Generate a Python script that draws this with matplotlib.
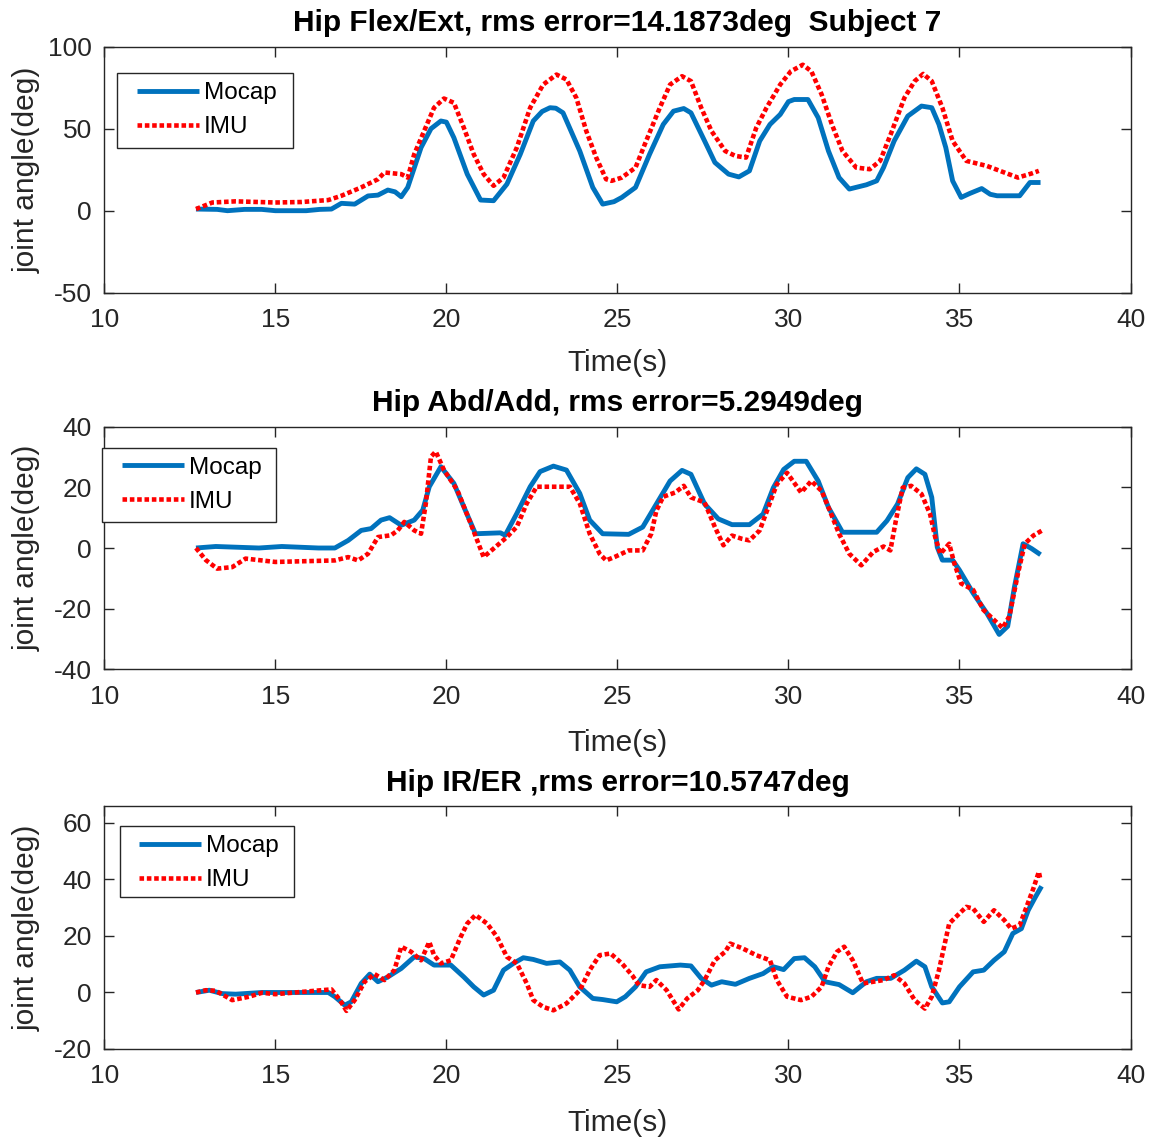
import matplotlib
matplotlib.use('Agg')
import matplotlib.pyplot as plt
from matplotlib.patches import Rectangle

plt.rcParams['font.family'] = ['Liberation Sans', 'DejaVu Sans']
plt.rcParams['axes.unicode_minus'] = False

# ---------------- data ----------------
flex_mocap_t = [12.68, 13.3, 13.6, 14.1, 14.6, 15.0, 15.9, 16.3, 16.64, 16.93, 17.32, 17.71, 18.0, 18.29, 18.5,
                18.68, 18.87, 19.26, 19.55, 19.84, 20.0, 20.22, 20.61, 21.0, 21.38, 21.77, 22.16, 22.54, 22.8,
                23.03, 23.2, 23.41, 23.9, 24.28, 24.57, 24.9, 25.13, 25.53, 25.94, 26.34, 26.64, 26.94, 27.15,
                27.55, 27.85, 28.25, 28.55, 28.86, 29.16, 29.46, 29.76, 30.0, 30.17, 30.57, 30.87, 31.17, 31.48,
                31.78, 32.28, 32.58, 32.78, 33.09, 33.49, 33.89, 34.19, 34.4, 34.6, 34.8, 35.05, 35.3, 35.65,
                35.9, 36.1, 36.76, 37.06, 37.37]
flex_mocap_y = [1.0, 0.8, 0.0, 0.8, 0.8, 0.0, 0.0, 0.8, 1.0, 4.5, 4.0, 9.0, 9.5, 12.6, 11.5,
                8.5, 14.2, 38.5, 50.0, 54.7, 54.0, 44.5, 22.3, 6.5, 6.1, 16.2, 34.4, 54.7, 60.5,
                62.8, 62.5, 59.7, 36.4, 14.2, 4.0, 5.5, 8.1, 14.2, 34.4, 52.6, 60.7, 62.3, 59.7,
                42.5, 29.4, 22.3, 20.6, 24.3, 42.5, 52.6, 58.7, 66.5, 67.8, 67.8, 56.7, 36.4, 20.2,
                13.2, 15.8, 18.2, 26.3, 42.5, 57.7, 63.8, 62.8, 52.6, 38.5, 18.2, 8.1, 10.5, 13.5,
                10.0, 9.1, 9.1, 17.2, 17.2]
flex_imu_t = [12.68, 13.16, 13.84, 15.0, 15.77, 16.55, 16.93, 17.51, 18.0, 18.19, 18.68, 18.87, 19.06, 19.35,
              19.64, 19.93, 20.22, 20.51, 20.8, 21.09, 21.38, 21.67, 22.06, 22.45, 22.83, 23.22, 23.51, 23.8,
              24.09, 24.38, 24.67, 24.83, 25.13, 25.53, 25.84, 26.24, 26.54, 26.89, 27.15, 27.45, 27.75, 28.15,
              28.45, 28.76, 29.06, 29.36, 29.76, 30.07, 30.42, 30.67, 30.97, 31.27, 31.58, 31.98, 32.38, 32.68,
              32.99, 33.39, 33.69, 33.94, 34.19, 34.5, 34.8, 35.2, 35.8, 36.31, 36.71, 37.11, 37.32]
flex_imu_y = [1.0, 5.0, 5.7, 5.0, 5.3, 6.5, 9.1, 14.2, 19.2, 23.3, 22.3, 20.2, 34.4, 48.6,
              62.8, 68.4, 65.8, 50.6, 34.4, 22.3, 15.2, 20.2, 38.5, 62.8, 76.9, 83.0, 80.0, 68.8,
              48.6, 32.4, 19.2, 18.2, 20.2, 26.3, 42.5, 62.8, 76.9, 82.0, 79.0, 62.8, 48.6, 36.4,
              33.4, 32.4, 50.6, 62.8, 76.9, 85.0, 89.0, 85.0, 70.9, 52.6, 36.4, 26.3, 25.3, 30.4,
              46.6, 68.8, 79.0, 83.4, 79.0, 62.8, 42.5, 30.4, 27.3, 23.3, 20.2, 22.7, 24.3]

abd_mocap_t = [12.68, 13.26, 14.52, 15.19, 16.26, 16.74, 17.13, 17.51, 17.8, 18.09, 18.34, 18.68, 19.06, 19.31,
               19.5, 19.84, 20.22, 20.51, 20.85, 21.58, 21.72, 22.06, 22.45, 22.74, 23.13, 23.51, 23.9, 24.19,
               24.57, 25.33, 25.74, 26.14, 26.54, 26.89, 27.15, 27.55, 27.95, 28.35, 28.86, 29.26, 29.56, 29.86,
               30.17, 30.52, 30.87, 31.17, 31.58, 32.58, 32.88, 33.19, 33.49, 33.74, 33.99, 34.19, 34.35, 34.5,
               34.8, 35.0, 35.4, 35.8, 36.16, 36.41, 36.61, 36.86, 37.11, 37.37]
abd_mocap_y = [0.0, 0.5, 0.0, 0.5, 0.0, 0.0, 2.5, 5.8, 6.4, 9.2, 10.0, 7.5, 9.2, 12.5,
               20.2, 26.8, 21.3, 13.6, 4.7, 5.0, 4.2, 11.4, 20.2, 25.2, 27.0, 25.7, 18.0, 9.2,
               4.7, 4.5, 6.9, 14.5, 22.1, 25.6, 24.3, 14.5, 9.6, 7.7, 7.7, 11.2, 19.9, 25.9,
               28.6, 28.6, 22.1, 13.4, 5.2, 5.2, 9.0, 14.5, 23.2, 26.1, 24.3, 16.7, 0.3, -4.0,
               -4.0, -7.3, -14.9, -21.5, -28.5, -25.8, -12.7, 1.4, -0.2, -2.2]
abd_imu_t = [12.68, 12.97, 13.3, 13.74, 14.13, 15.0, 16.74, 17.13, 17.42, 17.71, 18.0, 18.38, 18.58, 18.77,
             19.06, 19.26, 19.4, 19.55, 19.69, 19.93, 20.32, 20.71, 21.09, 21.38, 21.77, 22.06, 22.35, 22.64,
             23.13, 23.61, 23.9, 24.19, 24.48, 24.67, 24.93, 25.33, 25.74, 25.99, 26.14, 26.34, 26.69, 26.94,
             27.15, 27.55, 27.85, 28.1, 28.35, 28.65, 28.86, 29.16, 29.41, 29.66, 29.96, 30.37, 30.67, 30.97,
             31.17, 31.48, 31.78, 32.13, 32.48, 32.78, 32.98, 33.14, 33.34, 33.59, 33.89, 34.14, 34.29, 34.44,
             34.7, 34.85, 35.05, 35.4, 35.7, 36.0, 36.26, 36.46, 36.71, 36.91, 37.16, 37.42]
abd_imu_y = [0.0, -4.0, -6.8, -6.3, -3.5, -4.6, -4.1, -3.0, -4.1, -1.9, 3.6, 4.2, 5.8, 8.6,
             5.8, 4.7, 14.7, 30.1, 31.8, 25.7, 19.1, 8.1, -3.0, -0.2, 3.6, 7.0, 14.7, 20.2,
             20.2, 20.2, 14.7, 4.7, -1.9, -4.1, -2.9, -0.8, -0.8, 4.7, 12.3, 16.9, 18.3, 20.5,
             16.7, 15.0, 6.9, 0.9, 4.1, 3.0, 2.5, 5.8, 13.4, 21.0, 24.8, 18.3, 22.1, 18.8,
             13.4, 4.7, -1.9, -5.7, -1.3, 0.5, -0.8, 9.0, 19.9, 20.5, 17.8, 11.2, 3.6, -1.9,
             1.4, -5.1, -11.7, -13.8, -20.4, -23.6, -26.4, -22.5, -8.4, 1.4, 4.1, 5.8]

rot_mocap_t = [12.68, 13.07, 13.45, 13.84, 14.61, 16.55, 16.74, 17.03, 17.22, 17.51, 17.76, 18.0, 18.29, 18.68,
               19.06, 19.35, 19.64, 20.13, 20.51, 20.8, 21.09, 21.38, 21.67, 21.96, 22.25, 22.54, 22.93, 23.32,
               23.61, 23.9, 24.28, 24.57, 24.98, 25.23, 25.53, 25.84, 26.24, 26.54, 26.84, 27.15, 27.45, 27.75,
               28.05, 28.45, 28.86, 29.26, 29.56, 29.86, 30.17, 30.47, 30.77, 31.07, 31.48, 31.88, 32.28, 32.58,
               32.99, 33.39, 33.74, 33.99, 34.19, 34.5, 34.7, 35.0, 35.4, 35.71, 36.01, 36.31, 36.56, 36.81,
               37.01, 37.22, 37.4]
rot_mocap_y = [0.0, 0.8, -0.4, -0.6, 0.0, 0.0, -1.5, -4.5, -3.3, 3.2, 6.5, 3.8, 5.5, 8.5,
               12.6, 12.0, 9.7, 9.7, 5.5, 2.0, -0.9, 0.8, 7.9, 10.3, 12.3, 11.7, 10.3, 10.8,
               7.9, 2.0, -2.1, -2.5, -3.3, -1.5, 2.0, 7.3, 9.1, 9.4, 9.7, 9.4, 5.0, 2.6,
               3.8, 2.9, 5.0, 6.7, 9.1, 8.1, 12.0, 12.3, 9.1, 3.8, 2.8, -0.1, 3.8, 5.0,
               5.0, 7.9, 11.1, 9.1, 2.0, -3.7, -3.3, 2.0, 7.3, 7.9, 11.4, 14.4, 20.9, 22.6,
               29.1, 33.8, 37.6]
rot_imu_t = [12.68, 12.97, 13.26, 13.74, 14.23, 14.61, 15.0, 15.77, 16.64, 16.89, 17.08, 17.32, 17.61, 17.9,
             18.19, 18.48, 18.68, 18.97, 19.26, 19.5, 19.64, 19.84, 20.13, 20.42, 20.61, 20.85, 21.19, 21.48,
             21.77, 22.06, 22.35, 22.54, 22.83, 23.13, 23.51, 23.9, 24.19, 24.48, 24.8, 25.13, 25.43, 25.63,
             25.94, 26.14, 26.44, 26.79, 27.04, 27.35, 27.55, 27.85, 28.15, 28.3, 28.66, 29.06, 29.46, 29.66,
             29.96, 30.37, 30.67, 30.97, 31.17, 31.42, 31.63, 31.88, 32.18, 32.48, 32.78, 33.09, 33.39, 33.69,
             33.99, 34.19, 34.4, 34.55, 34.7, 34.9, 35.2, 35.4, 35.71, 36.01, 36.31, 36.51, 36.76, 36.96,
             37.16, 37.32, 37.37]
rot_imu_y = [0.0, 0.8, 0.6, -2.7, -1.5, -0.1, -0.6, 0.2, 1.1, -2.7, -6.5, -2.7, 3.8, 6.5,
             4.4, 7.9, 16.2, 14.4, 11.4, 17.9, 13.2, 10.3, 11.4, 19.7, 24.4, 27.4, 24.4, 19.7,
             12.6, 10.3, 3.2, -2.7, -5.1, -6.3, -3.9, 0.8, 7.9, 13.2, 13.8, 10.3, 6.1, 2.6,
             2.0, 4.4, 0.8, -6.0, -2.1, 0.8, 4.4, 11.4, 14.4, 17.3, 15.6, 13.2, 11.4, 4.4,
             -1.5, -2.7, -1.5, 2.0, 9.1, 14.4, 16.2, 11.4, 3.2, 3.8, 4.4, 6.1, 3.2, -2.7,
             -5.7, -1.5, 7.9, 16.2, 24.4, 26.8, 30.3, 29.7, 25.0, 29.1, 25.6, 22.6, 23.8, 30.3,
             36.8, 42.7, 39.7]

titles = ['Hip Flex/Ext, rms error=14.1873deg  Subject 7',
          'Hip Abd/Add, rms error=5.2949deg',
          'Hip IR/ER ,rms error=10.5747deg']
series_labels = ['Mocap', 'IMU']
x_ticks = [10, 15, 20, 25, 30, 35, 40]
y_ticks = [[-50, 0, 50, 100], [-40, -20, 0, 20, 40], [-20, 0, 20, 40, 60]]
y_lims = [(-50, 100), (-40, 40), (-20, 66)]

panels = [(flex_mocap_t, flex_mocap_y, flex_imu_t, flex_imu_y),
          (abd_mocap_t, abd_mocap_y, abd_imu_t, abd_imu_y),
          (rot_mocap_t, rot_mocap_y, rot_imu_t, rot_imu_y)]

# ---------------- layout (pixels) ----------------
W, H = 1153, 1139
fig = plt.figure(figsize=(W / 100, H / 100), dpi=100)
axes_px = [(104.3, 46.7, 1130.5, 292.7), (104.3, 426.7, 1130.5, 669.3), (104.3, 806.0, 1130.5, 1049.0)]
legend_frames = [(117.0, 73.3, 292.7, 148.0), (101.7, 448.0, 275.7, 521.7), (120.0, 826.0, 294.0, 897.3)]
legend_anchor = [(137.0, 82.0), (121.7, 456.7), (139.3, 835.0)]
xlabel_off = [56.0, 60.0, 60.0]

DARK = '#262626'
BLUE = '#0072BD'
RED = '#FF0000'

for i, (mt, my, it, iy) in enumerate(panels):
    l, t, r, b = axes_px[i]
    ax = fig.add_axes([l / W, 1 - b / H, (r - l) / W, (b - t) / H])
    ax.plot(mt, my, color=BLUE, lw=3.5, solid_capstyle='butt', solid_joinstyle='round', label=series_labels[0])
    ax.plot(it, iy, color=RED, lw=3.3, linestyle=(0, (1.0, 0.6)), dash_capstyle='butt', label=series_labels[1])
    ax.set_xlim(10, 40)
    ax.set_ylim(*y_lims[i])
    ax.set_xticks(x_ticks)
    ax.set_yticks(y_ticks[i])
    ax.tick_params(direction='in', top=True, right=True, length=7, width=1.0,
                   colors=DARK, labelsize=19)
    ax.tick_params(axis='x', pad=11)
    ax.tick_params(axis='y', pad=9)
    for sp in ax.spines.values():
        sp.set_color(DARK)
        sp.set_linewidth(1.0)
    ax.set_title(titles[i], fontsize=21.5, fontweight='bold', color='black', pad=11)
    ax.set_xlabel('Time(s)', fontsize=21.5, color=DARK)
    ax.set_ylabel('joint angle(deg)', fontsize=21.5, color=DARK)
    hpx = b - t
    ax.xaxis.set_label_coords(0.5, -(xlabel_off[i] / hpx))
    ax.yaxis.set_label_coords(-(64.0 / (r - l)), 0.5)

    fl, ft, fr, fb = legend_frames[i]
    rect = Rectangle((fl / W, 1 - fb / H), (fr - fl) / W, (fb - ft) / H, transform=fig.transFigure,
                     facecolor='white', edgecolor=DARK, lw=1.0, zorder=4.9, clip_on=False)
    ax.add_patch(rect)
    ax_x, ax_y = legend_anchor[i]
    ax.legend(loc='upper left', bbox_to_anchor=(ax_x / W, 1 - ax_y / H), bbox_transform=fig.transFigure,
              frameon=False, borderpad=0, borderaxespad=0, handlelength=2.55, handletextpad=0.2,
              labelspacing=0.5, fontsize=17.5, labelcolor='black')

fig.savefig('out.png', dpi=100)
